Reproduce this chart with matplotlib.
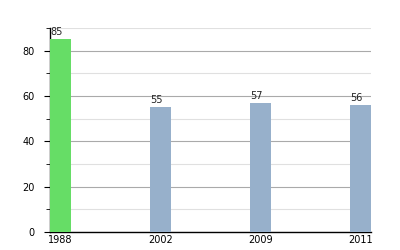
import matplotlib.pyplot as plt
from matplotlib.ticker import MultipleLocator

# data
years = ["1988", "2002", "2009", "2011"]
values = [85, 55, 57, 56]
colors = ["#66dd66", "#97b0cb", "#97b0cb", "#97b0cb"]

fig = plt.figure(figsize=(4, 2.5), dpi=100)
ax = fig.add_axes([0.125, 0.072, 0.8025, 0.816])

pos = list(range(len(years)))
bars = ax.bar(pos, values, width=0.21, color=colors, zorder=3)

for b, v in zip(bars, values):
    ax.annotate(str(v), (b.get_x() + b.get_width() / 2 - 0.04, v),
                xytext=(0, 1.5), textcoords="offset points",
                ha="center", va="bottom", fontsize=7, color="#222222")

ax.set_xlim(-0.105, 3.105)
ax.set_ylim(0, 90)
ax.set_xticks(pos)
ax.set_xticklabels(years)
ax.yaxis.set_major_locator(MultipleLocator(20))
ax.yaxis.set_minor_locator(MultipleLocator(10))

# grid: darker major, lighter minor
ax.grid(axis="y", which="major", color="#aaaaaa", linewidth=0.8, zorder=0)
ax.grid(axis="y", which="minor", color="#e0e0e0", linewidth=0.8, zorder=0)
ax.set_axisbelow(True)

for s in ["top", "right"]:
    ax.spines[s].set_visible(False)
ax.spines["left"].set_linewidth(1)
ax.spines["bottom"].set_linewidth(1)

ax.tick_params(axis="y", which="major", length=4, labelsize=7, pad=7)
ax.tick_params(axis="y", which="minor", length=3)
ax.tick_params(axis="x", length=0, labelsize=7, pad=2)

fig.savefig("out.png", dpi=100)
